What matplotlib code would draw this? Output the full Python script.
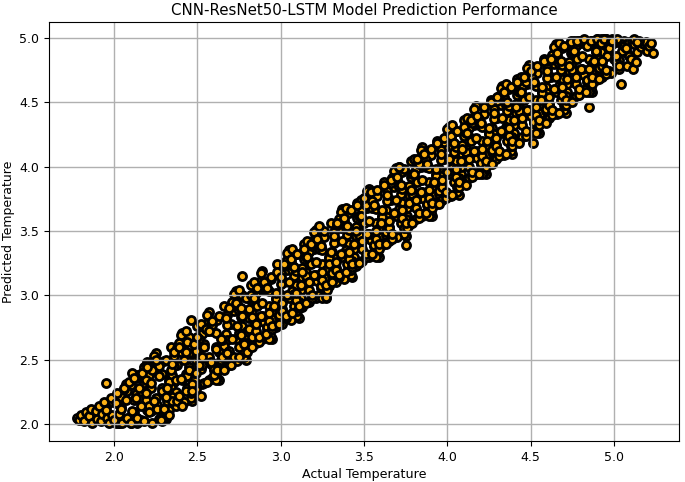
import matplotlib
matplotlib.use("Agg")
import matplotlib.pyplot as plt

# values, ten points per row, walking up the band
actual_temp = [
    1.78, 1.79, 1.80, 1.82, 1.83, 1.85, 1.86, 1.87, 1.89, 1.90,
    1.91, 1.92, 1.93, 1.94, 1.96, 1.97, 1.98, 1.99, 1.95, 1.95,
    2.00, 2.01, 2.02, 2.03, 2.04, 2.05, 2.06, 2.07, 2.08, 2.09,
    2.10, 2.11, 2.12, 2.13, 2.14, 2.15, 2.16, 2.17, 2.18, 2.19,
    2.20, 2.21, 2.22, 2.23, 2.24, 2.25, 2.26, 2.27, 2.28, 2.29,
    2.30, 2.31, 2.32, 2.33, 2.34, 2.35, 2.36, 2.37, 2.31, 2.35,
    2.38, 2.39, 2.40, 2.41, 2.42, 2.43, 2.44, 2.45, 2.39, 2.43,
    2.46, 2.47, 2.48, 2.49, 2.50, 2.52, 2.53, 2.54, 2.55, 2.51,
    2.56, 2.57, 2.58, 2.59, 2.60, 2.61, 2.62, 2.63, 2.64, 2.65,
    2.66, 2.67, 2.68, 2.69, 2.70, 2.71, 2.72, 2.73, 2.74, 2.75,
    2.75, 2.76, 2.77, 2.78, 2.79, 2.80, 2.81, 2.77, 2.82, 2.83,
    2.83, 2.84, 2.85, 2.86, 2.87, 2.88, 2.89, 2.90, 2.85, 2.87,
    2.91, 2.92, 2.93, 2.94, 2.95, 2.96, 2.97, 2.98, 2.93, 2.95,
    2.99, 3.00, 3.01, 3.02, 3.03, 3.04, 3.05, 3.06, 3.01, 3.03,
    3.07, 3.08, 3.09, 3.10, 3.11, 3.12, 3.13, 3.14, 3.09, 3.11,
    3.15, 3.16, 3.17, 3.18, 3.19, 3.20, 3.21, 3.22, 3.17, 3.19,
    3.27, 3.24, 3.25, 3.26, 3.28, 3.29, 3.30, 3.23, 3.25, 3.27,
    3.31, 3.32, 3.33, 3.34, 3.35, 3.36, 3.37, 3.38, 3.33, 3.35,
    3.39, 3.40, 3.41, 3.42, 3.43, 3.44, 3.45, 3.46, 3.41, 3.43,
    3.47, 3.48, 3.49, 3.50, 3.51, 3.52, 3.53, 3.54, 3.49, 3.51,
    3.55, 3.56, 3.57, 3.58, 3.59, 3.60, 3.61, 3.62, 3.57, 3.59,
    3.63, 3.64, 3.65, 3.66, 3.67, 3.68, 3.69, 3.70, 3.65, 3.67,
    3.75, 3.72, 3.73, 3.74, 3.76, 3.77, 3.78, 3.71, 3.73, 3.75,
    3.79, 3.80, 3.81, 3.82, 3.83, 3.84, 3.85, 3.86, 3.81, 3.83,
    3.87, 3.88, 3.89, 3.90, 3.91, 3.92, 3.93, 3.94, 3.89, 3.91,
    3.95, 3.96, 3.97, 3.98, 3.99, 4.00, 4.01, 4.02, 3.97, 3.99,
    4.03, 4.04, 4.05, 4.06, 4.07, 4.08, 4.09, 4.10, 4.05, 4.07,
    4.11, 4.12, 4.13, 4.14, 4.15, 4.16, 4.17, 4.18, 4.13, 4.15,
    4.19, 4.20, 4.21, 4.22, 4.23, 4.24, 4.25, 4.26, 4.21, 4.23,
    4.27, 4.28, 4.29, 4.30, 4.31, 4.32, 4.33, 4.34, 4.29, 4.31,
    4.35, 4.36, 4.37, 4.38, 4.39, 4.40, 4.41, 4.42, 4.37, 4.39,
    4.43, 4.44, 4.45, 4.46, 4.47, 4.48, 4.49, 4.50, 4.45, 4.47,
    4.515, 4.52, 4.53, 4.54, 4.55, 4.56, 4.57, 4.58, 4.53, 4.55,
    4.59, 4.60, 4.61, 4.62, 4.63, 4.64, 4.65, 4.66, 4.61, 4.63,
    4.67, 4.68, 4.69, 4.70, 4.71, 4.72, 4.73, 4.74, 4.69, 4.71,
    4.75, 4.76, 4.77, 4.78, 4.79, 4.80, 4.81, 4.82, 4.77, 4.79,
    4.83, 4.84, 4.85, 4.86, 4.87, 4.88, 4.89, 4.90, 4.85, 4.87,
    4.91, 4.92, 4.93, 4.94, 4.95, 4.96, 4.97, 4.98, 4.93, 4.95,
    5.04, 5.00, 5.01, 5.02, 5.03, 5.05, 5.06, 4.99, 5.01, 5.03,
    5.08, 5.09, 5.10, 5.11, 5.115, 5.07, 5.12, 5.14, 5.13, 5.16,
    5.18, 5.20, 5.235, 5.17, 5.19, 5.21, 5.15, 5.22, 5.12, 5.14,
]

predicted_temp = [
    2.05, 2.03, 2.07, 2.02, 2.09, 2.06, 2.12, 2.01, 2.10, 2.04,
    2.14, 2.02, 2.08, 2.17, 2.05, 2.01, 2.20, 2.07, 2.32, 2.11,
    2.03, 2.16, 2.24, 2.08, 2.12, 2.01, 2.28, 2.19, 2.05, 2.33,
    2.01, 2.10, 2.36, 2.20, 2.05, 2.28, 2.14, 2.40, 2.02, 2.24,
    2.44, 2.09, 2.32, 2.01, 2.18, 2.50, 2.12, 2.37, 2.03, 2.26,
    2.12, 2.50, 2.28, 2.07, 2.42, 2.18, 2.56, 2.34, 2.21, 2.47,
    2.18, 2.60, 2.35, 2.14, 2.50, 2.26, 2.64, 2.42, 2.22, 2.56,
    2.81, 2.26, 2.62, 2.40, 2.68, 2.22, 2.52, 2.32, 2.74, 2.46,
    2.33, 2.72, 2.48, 2.80, 2.38, 2.58, 2.42, 2.84, 2.66, 2.52,
    2.42, 2.82, 2.55, 2.90, 2.46, 2.66, 2.52, 2.94, 2.76, 2.60,
    2.52, 2.90, 3.15, 2.62, 2.98, 2.56, 2.74, 2.84, 3.00, 2.68,
    2.60, 2.98, 2.72, 3.06, 2.64, 2.84, 2.94, 3.10, 2.78, 2.68,
    2.70, 3.06, 2.80, 3.14, 2.74, 2.92, 3.02, 3.18, 2.86, 2.76,
    2.78, 3.14, 2.88, 3.24, 2.82, 3.00, 3.10, 3.28, 2.94, 2.84,
    2.86, 3.22, 2.96, 3.32, 2.90, 3.08, 3.18, 3.36, 3.02, 2.92,
    2.94, 3.30, 3.04, 3.40, 2.98, 3.16, 3.26, 3.44, 3.10, 3.00,
    2.99, 3.38, 3.12, 3.50, 3.04, 3.24, 3.34, 3.54, 3.18, 3.08,
    3.10, 3.46, 3.20, 3.56, 3.14, 3.32, 3.42, 3.60, 3.26, 3.16,
    3.18, 3.54, 3.28, 3.66, 3.22, 3.40, 3.50, 3.70, 3.34, 3.24,
    3.25, 3.62, 3.36, 3.76, 3.30, 3.48, 3.58, 3.80, 3.42, 3.32,
    3.32, 3.70, 3.44, 3.82, 3.36, 3.56, 3.66, 3.86, 3.50, 3.40,
    3.40, 3.78, 3.52, 3.90, 3.44, 3.64, 3.74, 3.92, 3.58, 3.48,
    3.39, 3.86, 3.60, 3.98, 3.52, 3.72, 3.82, 4.00, 3.66, 3.56,
    3.56, 3.94, 3.68, 4.06, 3.60, 3.80, 3.90, 4.10, 3.74, 3.64,
    3.64, 4.02, 3.76, 4.14, 3.68, 3.88, 3.98, 4.18, 3.82, 3.72,
    3.71, 4.10, 3.84, 4.22, 3.76, 3.96, 4.06, 4.24, 3.90, 3.80,
    3.78, 4.18, 3.92, 4.28, 3.84, 4.04, 4.14, 4.31, 3.98, 3.88,
    3.86, 4.26, 4.00, 4.36, 3.92, 4.12, 4.22, 4.39, 4.06, 3.96,
    3.94, 4.34, 4.08, 4.46, 4.00, 4.20, 4.30, 4.50, 4.14, 4.04,
    4.02, 4.42, 4.16, 4.54, 4.08, 4.28, 4.38, 4.58, 4.22, 4.12,
    4.10, 4.50, 4.24, 4.62, 4.16, 4.36, 4.46, 4.66, 4.30, 4.20,
    4.18, 4.58, 4.32, 4.70, 4.24, 4.44, 4.54, 4.74, 4.38, 4.28,
    4.18, 4.66, 4.40, 4.78, 4.32, 4.52, 4.62, 4.82, 4.46, 4.36,
    4.34, 4.74, 4.48, 4.84, 4.40, 4.60, 4.70, 4.88, 4.54, 4.44,
    4.42, 4.82, 4.56, 4.94, 4.48, 4.68, 4.78, 4.97, 4.62, 4.52,
    4.50, 4.90, 4.64, 4.98, 4.56, 4.76, 4.86, 4.99, 4.70, 4.60,
    4.58, 4.94, 4.46, 4.98, 4.64, 4.82, 4.90, 4.99, 4.76, 4.70,
    4.68, 4.96, 4.78, 4.99, 4.72, 4.86, 4.92, 4.98, 4.82, 4.75,
    4.64, 4.97, 4.82, 4.99, 4.76, 4.90, 4.94, 4.98, 4.86, 4.78,
    4.78, 4.97, 4.84, 4.98, 4.76, 4.92, 4.95, 4.89, 4.81, 4.93,
    4.95, 4.90, 4.88, 4.96, 4.97, 4.94, 4.98, 4.96, 4.99, 4.97,
]

# second pass over the band, to fill the gaps between the first rows
actual_fill = [
    1.96, 2.02, 1.98, 2.03, 1.97, 2.04, 1.99, 2.01, 1.95, 2.05,
    2.04, 2.10, 2.06, 2.11, 2.05, 2.12, 2.07, 2.09, 2.03, 2.13,
    2.12, 2.18, 2.14, 2.19, 2.13, 2.20, 2.15, 2.17, 2.11, 2.21,
    2.20, 2.26, 2.22, 2.27, 2.21, 2.28, 2.23, 2.25, 2.19, 2.29,
    2.28, 2.34, 2.30, 2.35, 2.29, 2.36, 2.31, 2.33, 2.27, 2.37,
    2.36, 2.42, 2.38, 2.43, 2.37, 2.44, 2.39, 2.41, 2.35, 2.45,
    2.44, 2.50, 2.46, 2.51, 2.45, 2.52, 2.47, 2.49, 2.43, 2.53,
    2.52, 2.58, 2.54, 2.59, 2.53, 2.60, 2.55, 2.57, 2.51, 2.61,
    2.60, 2.66, 2.62, 2.67, 2.61, 2.68, 2.63, 2.65, 2.59, 2.69,
    2.68, 2.74, 2.70, 2.75, 2.69, 2.76, 2.71, 2.73, 2.67, 2.77,
    2.76, 2.82, 2.78, 2.83, 2.77, 2.84, 2.79, 2.81, 2.75, 2.85,
    2.84, 2.90, 2.86, 2.91, 2.85, 2.92, 2.87, 2.89, 2.83, 2.93,
    2.92, 2.98, 2.94, 2.99, 2.93, 3.00, 2.95, 2.97, 2.91, 3.01,
    3.00, 3.06, 3.02, 3.07, 3.01, 3.08, 3.03, 3.05, 2.99, 3.09,
    3.08, 3.14, 3.10, 3.15, 3.09, 3.16, 3.11, 3.13, 3.07, 3.17,
    3.16, 3.22, 3.18, 3.23, 3.17, 3.24, 3.19, 3.21, 3.15, 3.25,
    3.24, 3.30, 3.26, 3.31, 3.25, 3.32, 3.27, 3.29, 3.23, 3.33,
    3.32, 3.38, 3.34, 3.39, 3.33, 3.40, 3.35, 3.37, 3.31, 3.41,
    3.40, 3.46, 3.42, 3.47, 3.41, 3.48, 3.43, 3.45, 3.39, 3.49,
    3.48, 3.54, 3.50, 3.55, 3.49, 3.56, 3.51, 3.53, 3.47, 3.57,
    3.56, 3.62, 3.58, 3.63, 3.57, 3.64, 3.59, 3.61, 3.55, 3.65,
    3.64, 3.70, 3.66, 3.71, 3.65, 3.72, 3.67, 3.69, 3.63, 3.73,
    3.72, 3.78, 3.74, 3.79, 3.73, 3.80, 3.75, 3.77, 3.71, 3.81,
    3.80, 3.86, 3.82, 3.87, 3.81, 3.88, 3.83, 3.85, 3.79, 3.89,
    3.88, 3.94, 3.90, 3.95, 3.89, 3.96, 3.91, 3.93, 3.87, 3.97,
    3.96, 4.02, 3.98, 4.03, 3.97, 4.04, 3.99, 4.01, 3.95, 4.05,
    4.04, 4.10, 4.06, 4.11, 4.05, 4.12, 4.07, 4.09, 4.03, 4.13,
    4.12, 4.18, 4.14, 4.19, 4.13, 4.20, 4.15, 4.17, 4.11, 4.21,
    4.20, 4.26, 4.22, 4.27, 4.21, 4.28, 4.23, 4.25, 4.19, 4.29,
    4.28, 4.34, 4.30, 4.35, 4.29, 4.36, 4.31, 4.33, 4.27, 4.37,
    4.36, 4.42, 4.38, 4.43, 4.37, 4.44, 4.39, 4.41, 4.35, 4.45,
    4.44, 4.50, 4.46, 4.51, 4.45, 4.52, 4.47, 4.49, 4.43, 4.53,
    4.52, 4.58, 4.54, 4.59, 4.53, 4.60, 4.55, 4.57, 4.51, 4.61,
    4.60, 4.66, 4.62, 4.67, 4.61, 4.68, 4.63, 4.65, 4.59, 4.69,
    4.68, 4.74, 4.70, 4.75, 4.69, 4.76, 4.71, 4.73, 4.67, 4.77,
    4.76, 4.82, 4.78, 4.83, 4.77, 4.84, 4.79, 4.81, 4.75, 4.85,
    4.84, 4.90, 4.86, 4.91, 4.85, 4.92, 4.87, 4.89, 4.83, 4.93,
    4.92, 4.98, 4.94, 4.99, 4.93, 5.00, 4.95, 4.97, 4.91, 5.01,
    5.00, 5.06, 5.02, 5.07, 5.01, 5.08, 5.03, 5.05, 4.99, 5.09,
]

predicted_fill = [
    2.02, 2.03, 2.17, 2.01, 2.07, 2.21, 2.04, 2.01, 2.13, 2.02,
    2.13, 2.01, 2.27, 2.07, 2.02, 2.19, 2.31, 2.02, 2.01, 2.23,
    2.05, 2.32, 2.01, 2.19, 2.36, 2.11, 2.02, 2.25, 2.40, 2.14,
    2.46, 2.15, 2.28, 2.04, 2.38, 2.10, 2.42, 2.20, 2.34, 2.02,
    2.11, 2.29, 2.49, 2.19, 2.39, 2.53, 2.24, 2.33, 2.45, 2.14,
    2.45, 2.17, 2.59, 2.39, 2.25, 2.51, 2.63, 2.34, 2.21, 2.55,
    2.37, 2.64, 2.24, 2.51, 2.68, 2.43, 2.31, 2.57, 2.72, 2.46,
    2.78, 2.47, 2.60, 2.36, 2.70, 2.42, 2.74, 2.52, 2.66, 2.34,
    2.43, 2.61, 2.81, 2.51, 2.71, 2.85, 2.56, 2.65, 2.77, 2.46,
    2.77, 2.49, 2.91, 2.71, 2.57, 2.83, 2.95, 2.66, 2.53, 2.87,
    2.69, 2.96, 2.56, 2.83, 3.00, 2.75, 2.63, 2.89, 3.04, 2.78,
    3.10, 2.79, 2.92, 2.68, 3.02, 2.74, 3.06, 2.84, 2.98, 2.66,
    2.75, 2.93, 3.13, 2.83, 3.03, 3.17, 2.88, 2.97, 3.09, 2.78,
    3.09, 2.81, 3.23, 3.03, 2.89, 3.15, 3.27, 2.98, 2.85, 3.19,
    3.01, 3.28, 2.88, 3.15, 3.32, 3.07, 2.95, 3.21, 3.36, 3.10,
    3.42, 3.11, 3.24, 3.00, 3.34, 3.06, 3.38, 3.16, 3.30, 2.98,
    3.07, 3.25, 3.45, 3.15, 3.35, 3.49, 3.20, 3.29, 3.41, 3.10,
    3.41, 3.13, 3.55, 3.35, 3.21, 3.47, 3.59, 3.30, 3.17, 3.51,
    3.33, 3.60, 3.20, 3.47, 3.64, 3.39, 3.27, 3.53, 3.68, 3.42,
    3.74, 3.43, 3.56, 3.32, 3.66, 3.38, 3.70, 3.48, 3.62, 3.30,
    3.39, 3.57, 3.77, 3.47, 3.67, 3.81, 3.52, 3.61, 3.73, 3.42,
    3.73, 3.45, 3.87, 3.67, 3.53, 3.79, 3.91, 3.62, 3.49, 3.83,
    3.65, 3.92, 3.52, 3.79, 3.96, 3.71, 3.59, 3.85, 4.00, 3.74,
    4.06, 3.75, 3.88, 3.64, 3.98, 3.70, 4.02, 3.80, 3.94, 3.62,
    3.71, 3.89, 4.09, 3.79, 3.99, 4.13, 3.84, 3.93, 4.05, 3.74,
    4.05, 3.77, 4.19, 3.99, 3.85, 4.11, 4.23, 3.94, 3.81, 4.15,
    3.97, 4.24, 3.84, 4.11, 4.28, 4.03, 3.91, 4.17, 4.32, 4.06,
    4.38, 4.07, 4.20, 3.96, 4.30, 4.02, 4.34, 4.12, 4.26, 3.94,
    4.03, 4.21, 4.41, 4.11, 4.31, 4.45, 4.16, 4.25, 4.37, 4.06,
    4.37, 4.09, 4.51, 4.31, 4.17, 4.43, 4.55, 4.26, 4.13, 4.47,
    4.29, 4.56, 4.16, 4.43, 4.60, 4.35, 4.23, 4.49, 4.64, 4.38,
    4.70, 4.39, 4.52, 4.28, 4.62, 4.34, 4.66, 4.44, 4.58, 4.26,
    4.35, 4.53, 4.73, 4.43, 4.63, 4.77, 4.48, 4.57, 4.69, 4.38,
    4.69, 4.41, 4.83, 4.63, 4.49, 4.75, 4.87, 4.58, 4.45, 4.79,
    4.61, 4.88, 4.48, 4.75, 4.92, 4.67, 4.55, 4.81, 4.96, 4.70,
    4.98, 4.71, 4.84, 4.60, 4.94, 4.66, 4.97, 4.76, 4.90, 4.58,
    4.67, 4.85, 4.98, 4.75, 4.95, 4.99, 4.80, 4.89, 4.97, 4.70,
    4.98, 4.73, 4.99, 4.95, 4.81, 4.97, 4.99, 4.90, 4.77, 4.98,
    4.84, 4.98, 4.80, 4.93, 4.97, 4.88, 4.83, 4.95, 4.99, 4.86,
]

# third pass, pushed out to the upper and lower edges of the band
actual_edge = [
    2.10, 2.14, 2.16, 2.18, 2.20, 2.22, 2.06, 2.08, 2.12, 2.24,
    2.25, 2.31, 2.27, 2.32, 2.24, 2.29, 2.30, 2.26, 2.28, 2.33,
    2.33, 2.39, 2.35, 2.40, 2.32, 2.37, 2.38, 2.34, 2.36, 2.41,
    2.41, 2.47, 2.43, 2.48, 2.40, 2.45, 2.46, 2.42, 2.44, 2.49,
    2.49, 2.55, 2.51, 2.56, 2.48, 2.53, 2.54, 2.50, 2.52, 2.57,
    2.57, 2.63, 2.59, 2.64, 2.56, 2.61, 2.62, 2.58, 2.60, 2.65,
    2.65, 2.71, 2.67, 2.72, 2.64, 2.69, 2.70, 2.66, 2.68, 2.73,
    2.73, 2.79, 2.75, 2.80, 2.72, 2.77, 2.78, 2.74, 2.76, 2.81,
    2.81, 2.87, 2.83, 2.88, 2.80, 2.85, 2.86, 2.82, 2.84, 2.89,
    2.89, 2.95, 2.91, 2.96, 2.88, 2.93, 2.94, 2.90, 2.92, 2.97,
    2.97, 3.03, 2.99, 3.04, 2.96, 3.01, 3.02, 2.98, 3.00, 3.05,
    3.05, 3.11, 3.07, 3.12, 3.04, 3.09, 3.10, 3.06, 3.08, 3.13,
    3.13, 3.19, 3.15, 3.20, 3.12, 3.17, 3.18, 3.14, 3.16, 3.21,
    3.21, 3.27, 3.23, 3.28, 3.20, 3.25, 3.26, 3.22, 3.24, 3.29,
    3.29, 3.35, 3.31, 3.36, 3.28, 3.33, 3.34, 3.30, 3.32, 3.37,
    3.37, 3.43, 3.39, 3.44, 3.36, 3.41, 3.42, 3.38, 3.40, 3.45,
    3.45, 3.51, 3.47, 3.52, 3.44, 3.49, 3.50, 3.46, 3.48, 3.53,
    3.53, 3.59, 3.55, 3.60, 3.52, 3.57, 3.58, 3.54, 3.56, 3.61,
    3.61, 3.67, 3.63, 3.68, 3.60, 3.65, 3.66, 3.62, 3.64, 3.69,
    3.69, 3.75, 3.71, 3.76, 3.68, 3.73, 3.74, 3.70, 3.72, 3.77,
    3.77, 3.83, 3.79, 3.84, 3.76, 3.81, 3.82, 3.78, 3.80, 3.85,
    3.85, 3.91, 3.87, 3.92, 3.84, 3.89, 3.90, 3.86, 3.88, 3.93,
    3.93, 3.99, 3.95, 4.00, 3.92, 3.97, 3.98, 3.94, 3.96, 4.01,
    4.01, 4.07, 4.03, 4.08, 4.00, 4.05, 4.06, 4.02, 4.04, 4.09,
    4.09, 4.15, 4.11, 4.16, 4.08, 4.13, 4.14, 4.10, 4.12, 4.17,
    4.17, 4.23, 4.19, 4.24, 4.16, 4.21, 4.22, 4.18, 4.20, 4.25,
    4.25, 4.31, 4.27, 4.32, 4.24, 4.29, 4.30, 4.26, 4.28, 4.33,
    4.33, 4.39, 4.35, 4.40, 4.32, 4.37, 4.38, 4.34, 4.36, 4.41,
    4.41, 4.47, 4.43, 4.48, 4.40, 4.45, 4.46, 4.42, 4.44, 4.49,
    4.49, 4.55, 4.51, 4.56, 4.48, 4.53, 4.54, 4.50, 4.52, 4.57,
    4.57, 4.63, 4.59, 4.64, 4.56, 4.61, 4.62, 4.58, 4.60, 4.65,
    4.65, 4.71, 4.67, 4.72, 4.64, 4.69, 4.70, 4.66, 4.68, 4.73,
    4.73, 4.79, 4.75, 4.80, 4.72, 4.77, 4.78, 4.74, 4.76, 4.81,
    4.81, 4.87, 4.83, 4.88, 4.80, 4.85, 4.86, 4.82, 4.84, 4.89,
    4.89, 4.95, 4.91, 4.96, 4.88, 4.93, 4.94, 4.90, 4.92, 4.97,
]

predicted_edge = [
    2.30, 2.38, 2.03, 2.44, 2.48, 2.10, 2.22, 2.26, 2.09, 2.50,
    2.55, 2.04, 2.40, 2.18, 2.53, 2.28, 2.04, 2.46, 2.12, 2.34,
    2.11, 2.62, 2.38, 2.56, 2.24, 2.15, 2.46, 2.60, 2.33, 2.18,
    2.71, 2.18, 2.56, 2.34, 2.69, 2.44, 2.20, 2.62, 2.28, 2.50,
    2.27, 2.78, 2.54, 2.72, 2.40, 2.31, 2.62, 2.76, 2.49, 2.34,
    2.87, 2.34, 2.72, 2.50, 2.85, 2.60, 2.36, 2.78, 2.44, 2.66,
    2.43, 2.94, 2.70, 2.88, 2.56, 2.47, 2.78, 2.92, 2.65, 2.50,
    3.03, 2.50, 2.88, 2.66, 3.01, 2.76, 2.52, 2.94, 2.60, 2.82,
    2.59, 3.10, 2.86, 3.04, 2.72, 2.63, 2.94, 3.08, 2.81, 2.66,
    3.19, 2.66, 3.04, 2.82, 3.17, 2.92, 2.68, 3.10, 2.76, 2.98,
    2.75, 3.26, 3.02, 3.20, 2.88, 2.79, 3.10, 3.24, 2.97, 2.82,
    3.35, 2.82, 3.20, 2.98, 3.33, 3.08, 2.84, 3.26, 2.92, 3.14,
    2.91, 3.42, 3.18, 3.36, 3.04, 2.95, 3.26, 3.40, 3.13, 2.98,
    3.51, 2.98, 3.36, 3.14, 3.49, 3.24, 3.00, 3.42, 3.08, 3.30,
    3.07, 3.58, 3.34, 3.52, 3.20, 3.11, 3.42, 3.56, 3.29, 3.14,
    3.67, 3.14, 3.52, 3.30, 3.65, 3.40, 3.16, 3.58, 3.24, 3.46,
    3.23, 3.74, 3.50, 3.68, 3.36, 3.27, 3.58, 3.72, 3.45, 3.30,
    3.83, 3.30, 3.68, 3.46, 3.81, 3.56, 3.32, 3.74, 3.40, 3.62,
    3.39, 3.90, 3.66, 3.84, 3.52, 3.43, 3.74, 3.88, 3.61, 3.46,
    3.99, 3.46, 3.84, 3.62, 3.97, 3.72, 3.48, 3.90, 3.56, 3.78,
    3.55, 4.06, 3.82, 4.00, 3.68, 3.59, 3.90, 4.04, 3.77, 3.62,
    4.15, 3.62, 4.00, 3.78, 4.13, 3.88, 3.64, 4.06, 3.72, 3.94,
    3.71, 4.22, 3.98, 4.16, 3.84, 3.75, 4.06, 4.20, 3.93, 3.78,
    4.31, 3.78, 4.16, 3.94, 4.29, 4.04, 3.80, 4.22, 3.88, 4.10,
    3.87, 4.38, 4.14, 4.32, 4.00, 3.91, 4.22, 4.36, 4.09, 3.94,
    4.47, 3.94, 4.32, 4.10, 4.45, 4.20, 3.96, 4.38, 4.04, 4.26,
    4.03, 4.54, 4.30, 4.48, 4.16, 4.07, 4.38, 4.52, 4.25, 4.10,
    4.63, 4.10, 4.48, 4.26, 4.61, 4.36, 4.12, 4.54, 4.20, 4.42,
    4.19, 4.70, 4.46, 4.64, 4.32, 4.23, 4.54, 4.68, 4.41, 4.26,
    4.79, 4.26, 4.64, 4.42, 4.77, 4.52, 4.28, 4.70, 4.36, 4.58,
    4.35, 4.86, 4.62, 4.80, 4.48, 4.39, 4.70, 4.84, 4.57, 4.42,
    4.95, 4.42, 4.80, 4.58, 4.93, 4.68, 4.44, 4.86, 4.52, 4.74,
    4.51, 4.98, 4.78, 4.96, 4.64, 4.55, 4.86, 4.98, 4.73, 4.58,
    4.98, 4.58, 4.96, 4.74, 4.98, 4.84, 4.60, 4.97, 4.68, 4.90,
    4.67, 4.99, 4.94, 4.98, 4.80, 4.71, 4.97, 4.99, 4.89, 4.74,
]

x_ticks = [2.0, 2.5, 3.0, 3.5, 4.0, 4.5, 5.0]
y_ticks = [2.0, 2.5, 3.0, 3.5, 4.0, 4.5, 5.0]

fig = plt.figure(figsize=(6.85, 4.82), dpi=100)
ax = fig.add_axes([49 / 685, 1 - 441 / 482, 630 / 685, 419 / 482])

ax.scatter(actual_edge + actual_fill + actual_temp,
           predicted_edge + predicted_fill + predicted_temp,
           s=34, c="#fcb116", edgecolors="black", linewidths=2.0)

ax.set_xlim(1.61, 5.39)
ax.set_ylim(1.868, 5.124)
ax.set_xticks(x_ticks)
ax.set_yticks(y_ticks)
ax.tick_params(labelsize=9)
ax.grid(True, color="#b0b0b0", linewidth=1.0)

ax.set_title("CNN-ResNet50-LSTM Model Prediction Performance", fontsize=10.8, pad=5)
ax.set_xlabel("Actual Temperature", fontsize=9.1, labelpad=3)
ax.set_ylabel("Predicted Temperature", fontsize=9, labelpad=3)

fig.savefig("out.png", dpi=100)
